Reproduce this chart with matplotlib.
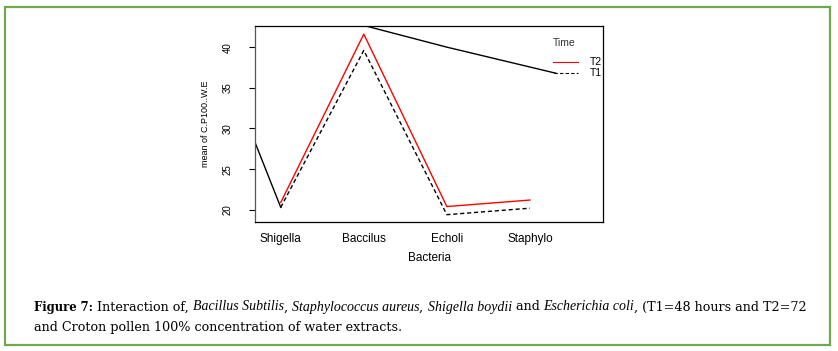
import matplotlib.pyplot as plt
from matplotlib.patches import Rectangle

bacteries = ["Shigella", "Baccilus", "Echoli", "Staphylo"]
t2 = [20.9, 41.6, 20.4, 21.2]
t1 = [20.3, 39.6, 19.4, 20.2]
yticks = [20, 25, 30, 35, 40]

# traits noirs parasites visibles sur l'image d'origine
trait1_x = [0.69, 1.0]
trait1_y = [28.3, 20.3]
trait2_x = [1.95, 3.0, 4.31]
trait2_y = [42.8, 40.0, 36.8]

fig = plt.figure(figsize=(8.38, 3.51), dpi=100)

# cadre vert autour de la figure
fig.patches.append(Rectangle((5 / 838, 1 - 345 / 351), 825 / 838, 338 / 351,
                             transform=fig.transFigure, fill=False,
                             edgecolor="#70a850", linewidth=1.6))

ax = fig.add_axes([255 / 838, 1 - 222 / 351, 348 / 838, 196 / 351])
x = range(1, len(bacteries) + 1)
ax.plot(x, t2, color="red", linewidth=1)
ax.plot(x, t1, color="black", linestyle=(0, (3, 2)), linewidth=1)
ax.plot(trait1_x, trait1_y, color="black", linewidth=1)
ax.plot(trait2_x, trait2_y, color="black", linewidth=1)

ax.set_xlim(0.69, 4.88)
ax.set_ylim(18.5, 42.6)
ax.set_yticks(yticks)
ax.set_yticklabels([str(v) for v in yticks], rotation=90, va="center",
                   fontsize=7, family="Liberation Sans")
ax.set_xticks(list(x))
ax.set_xticklabels(bacteries, fontsize=8.5, family="Liberation Sans")
ax.tick_params(axis="x", length=0, pad=8)
ax.tick_params(axis="y", length=4, width=0.8, pad=12)
for s in ax.spines.values():
    s.set_linewidth(0.9)
ax.spines["left"].set_color("#555555")
ax.set_xlabel("Bacteria", fontsize=8.5, family="Liberation Sans", labelpad=5)
ax.set_ylabel("mean of C.P100..W.E", fontsize=6.5, family="Liberation Sans", labelpad=9)

# legende faite a la main comme dans R
ax.text(0.856, 0.913, "Time", transform=ax.transAxes, fontsize=7.5,
        family="Liberation Sans", color="#333333", ha="left", va="center")
ax.plot([0.856, 0.928], [0.816, 0.816], transform=ax.transAxes, color="red", linewidth=0.8)
ax.plot([0.86, 0.928], [0.76, 0.76], transform=ax.transAxes, color="black",
        linewidth=0.8, linestyle=(0, (3, 2)))
ax.text(0.963, 0.816, "T2", transform=ax.transAxes, fontsize=7.5,
        family="Liberation Sans", va="center")
ax.text(0.963, 0.76, "T1", transform=ax.transAxes, fontsize=7.5,
        family="Liberation Sans", va="center")

# legende de la figure
y1 = 1 - 307 / 351
fig.text(34 / 838, y1, "Figure 7:", fontsize=8.4, family="DejaVu Serif",
         weight="bold", va="center")
morceaux = [
    (" Interaction of, ", "normal"), ("Bacillus Subtilis", "italic"), (", ", "normal"),
    ("Staphylococcus aureus", "italic"), (", ", "normal"), ("Shigella boydii", "italic"),
    (" and ", "normal"), ("Escherichia coli", "italic"),
    (", (T1=48 hours and T2=72", "normal"),
]
fig.canvas.draw()
r = fig.canvas.get_renderer()
t = fig.texts[-1]
xpos = t.get_window_extent(r).x1
for txt, style in morceaux:
    if style == "italic":
        tt = fig.text(xpos / fig.bbox.width, y1, txt, fontsize=10, family="Liberation Serif",
                      style="italic", va="center")
    else:
        tt = fig.text(xpos / fig.bbox.width, y1, txt, fontsize=9.2, family="DejaVu Serif",
                      va="center")
    xpos = tt.get_window_extent(r).x1
fig.text(34 / 838, 1 - 327 / 351, "and Croton pollen 100% concentration of water extracts.",
         fontsize=9.2, family="DejaVu Serif", va="center")

fig.savefig("out.png", dpi=100)
